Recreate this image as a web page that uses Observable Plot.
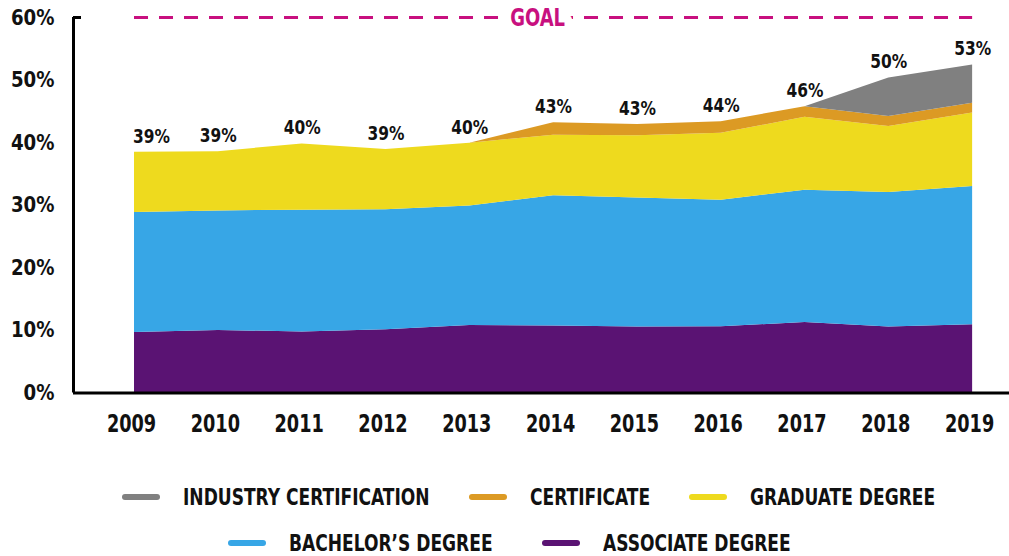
<!DOCTYPE html>
<html>
<head>
<meta charset="utf-8">
<script src="https://cdn.jsdelivr.net/npm/d3@7"></script>
<script src="https://cdn.jsdelivr.net/npm/@observablehq/plot@0.6"></script>
<style>
  html, body { margin: 0; padding: 0; background: #fff; }
  #chart { width: 1009px; }
  .legend { font-family: "DejaVu Sans Condensed", sans-serif; font-weight: bold; font-size: 23px; color: #111; }
  .row { display: flex; justify-content: flex-start; align-items: center; height: 46px; }
  .item { display: flex; align-items: center; }
  .sw { width: 38px; height: 6px; border-radius: 3px; margin-right: 23px; flex: none; }
  .lbl { display: inline-block; white-space: nowrap; transform: scaleX(0.825); transform-origin: left center; }
</style>
</head>
<body>
<div id="chart"></div>
<script>
const years = [2009, 2010, 2011, 2012, 2013, 2014, 2015, 2016, 2017, 2018, 2019];
const associate   = [9.65, 10.0, 9.75, 10.1, 10.8, 10.7, 10.55, 10.6, 11.25, 10.55, 10.9];
const bachelor    = [19.2, 19.1, 19.45, 19.2, 19.1, 20.8, 20.6, 20.2, 21.15, 21.5, 22.1];
const graduate    = [9.6, 9.46, 10.6, 9.6, 10.0, 9.7, 9.95, 10.7, 11.65, 10.55, 11.75];
const certificate = [null, null, null, null, 0, 2.0, 1.8, 1.86, 1.7, 1.6, 1.55];
const industry    = [null, null, null, null, null, null, null, null, 0, 6.15, 6.1];
const totalLabels = ["39%", "39%", "40%", "39%", "40%", "43%", "43%", "44%", "46%", "50%", "53%"];
const yTicks = [0, 10, 20, 30, 40, 50, 60];
const goal = 60;
const goalLabel = "GOAL";

const seriesNames = ["ASSOCIATE DEGREE", "BACHELOR\u2019S DEGREE", "GRADUATE DEGREE", "CERTIFICATE", "INDUSTRY CERTIFICATION"];
const seriesValues = [associate, bachelor, graduate, certificate, industry];
const seriesColors = ["#5a1373", "#37a6e6", "#eeda1e", "#dc9a24", "#808080"];

const rows = [];
seriesNames.forEach((name, i) => {
  years.forEach((yr, j) => {
    const v = seriesValues[i][j];
    if (v !== null) rows.push({year: yr, category: name, value: v});
  });
});
const totals = years.map((yr, j) => ({
  year: yr,
  total: d3.sum(seriesValues, s => s[j] || 0),
  label: totalLabels[j]
}));

const font = "'DejaVu Sans Condensed', sans-serif";
const xDomain = [2008.272, 2019.44];

const chart = Plot.plot({
  width: 1009,
  height: 450,
  marginLeft: 73,
  marginRight: 0,
  marginTop: 17,
  marginBottom: 57.5,
  style: {fontFamily: font, fontWeight: "bold", color: "#111", background: "#fff"},
  x: {domain: xDomain, axis: null, label: null},
  y: {domain: [0, 60], axis: null, label: null},
  color: {domain: seriesNames, range: seriesColors},
  marks: [
    Plot.areaY(rows, {x: "year", y: "value", fill: "category", order: seriesNames, curve: "linear"}),
    Plot.ruleY([goal], {x1: years[0], x2: years[years.length - 1], stroke: "#c8107f", strokeWidth: 3, strokeDasharray: "14,11"}),
    Plot.text([goalLabel], {x: d3.mean(years), y: goal, dx: -16, text: d => d, fill: "#c8107f", fontSize: 25, stroke: "white", strokeWidth: 20, paintOrder: "stroke", fontWeight: "bold", className: "goal-label"}),
    Plot.text(totals.slice(0, 1), {x: "year", y: "total", text: "label", dy: -16, dx: 17, fontSize: 19.5, fill: "#111", className: "total-label"}),
    Plot.text(totals.slice(1), {x: "year", y: "total", text: "label", dy: -16, fontSize: 19.5, fill: "#111", className: "total-label"}),
    Plot.ruleY([0], {stroke: "#000", strokeWidth: 3}),
    Plot.ruleX([xDomain[0]], {y1: 0, y2: 60, stroke: "#000", strokeWidth: 3}),
    Plot.axisY({ticks: [60], tickSize: -8, text: null, strokeWidth: 3, stroke: "#000"}),
    Plot.axisY({ticks: yTicks, tickFormat: d => d + "%", tickSize: 0, tickPadding: 19, fontSize: 22, fill: "#111", label: null, className: "ylab"}),
    Plot.axisX({ticks: years, tickFormat: d => String(d), tickSize: 0, tickPadding: 22, fontSize: 24, dx: -3, fill: "#111", label: null, className: "xlab"})
  ]
});
document.getElementById("chart").appendChild(chart);

// horizontally condense text glyphs around their anchor (emulates a condensed face)
function condense(sel, s) {
  d3.select(chart).selectAll(sel).each(function() {
    const t = d3.select(this);
    let tr = t.attr("transform");
    if (!tr) {
      const x = +t.attr("x") || 0, y = +t.attr("y") || 0;
      t.attr("x", null).attr("y", null);
      tr = `translate(${x},${y})`;
    }
    t.attr("transform", `${tr} scale(${s},1)`);
  });
}
condense(".xlab text", 0.82);
condense(".ylab text", 0.92);
condense(".total-label text", 0.88);
condense(".goal-label text", 0.8);

const legend = document.createElement("div");
legend.className = "legend";
const legendRows = [[4, 3, 2], [1, 0]];
const rowStart = [122, 228];
const rowGap = [39, 49];
const spans = [];
legendRows.forEach((idxs, r) => {
  const row = document.createElement("div");
  row.className = "row";
  row.style.paddingLeft = rowStart[r] + "px";
  idxs.forEach((i, k) => {
    const item = document.createElement("div");
    item.className = "item";
    if (k < idxs.length - 1) item.style.marginRight = rowGap[r] + "px";
    const sw = document.createElement("span");
    sw.className = "sw";
    sw.style.background = seriesColors[i];
    const t = document.createElement("span");
    t.className = "lbl";
    t.textContent = seriesNames[i];
    spans.push(t);
    item.appendChild(sw);
    item.appendChild(t);
    row.appendChild(item);
  });
  legend.appendChild(row);
});
legend.style.marginTop = "24px";
document.getElementById("chart").appendChild(legend);
spans.forEach(t => { t.style.marginRight = (-(1 - 0.825) * t.offsetWidth) + "px"; });
</script>
</body>
</html>
